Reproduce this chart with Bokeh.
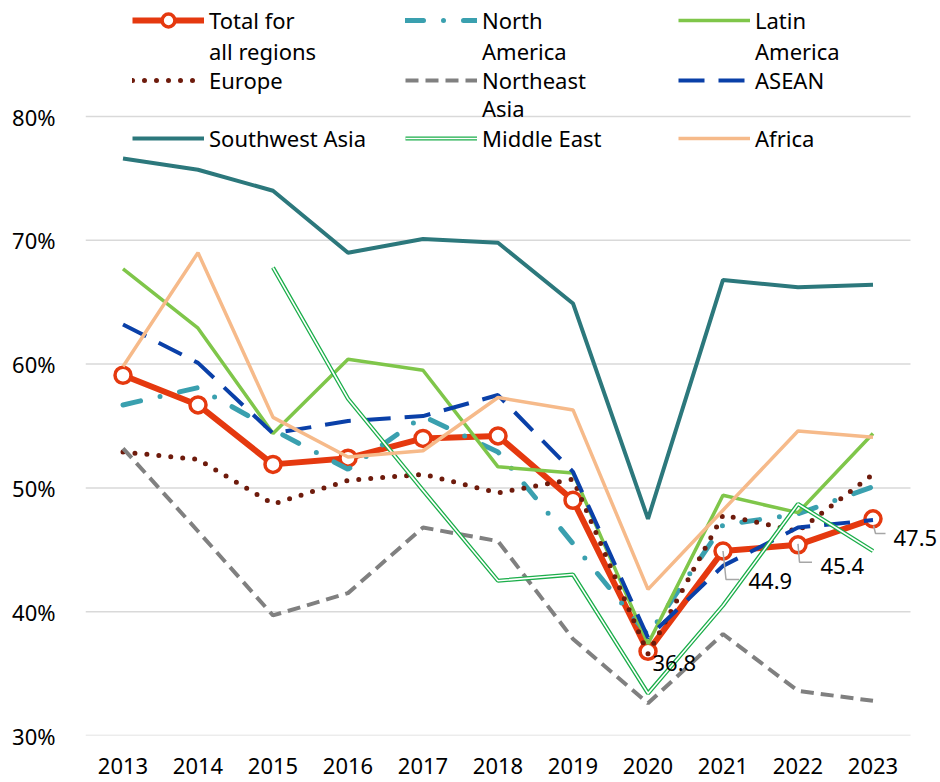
from bokeh.plotting import figure
from bokeh.models import (Legend, LegendItem, FixedTicker, Range1d, PrintfTickFormatter,
                          ColumnDataSource, LabelSet)
from bokeh.core.properties import value
from bokeh.embed import file_html
from bokeh.resources import INLINE

NAN = float("nan")

years = [2013, 2014, 2015, 2016, 2017, 2018, 2019, 2020, 2021, 2022, 2023]
total = [59.1, 56.7, 51.9, 52.4, 54.0, 54.2, 49.0, 36.8, 44.9, 45.4, 47.5]
north_america = [56.7, 58.1, 54.7, 51.5, 55.8, 52.9, 45.5, 38.1, 47.0, 47.9, 50.1]
latin_america = [67.7, 62.9, 54.4, 60.4, 59.5, 51.7, 51.2, 37.4, 49.4, 48.0, 54.4]
europe = [52.9, 52.3, 48.7, 50.6, 51.1, 49.6, 50.7, 36.6, 47.8, 46.5, 51.1]
northeast_asia = [53.2, 46.5, 39.7, 41.5, 46.8, 45.7, 37.8, 32.6, 38.2, 33.6, 32.8]
asean = [63.2, 60.1, 54.4, 55.4, 55.8, 57.5, 51.3, 37.9, 43.7, 46.8, 47.4]
southwest_asia = [76.6, 75.7, 74.0, 69.0, 70.1, 69.8, 64.9, 47.5, 66.8, 66.2, 66.4]
middle_east = [NAN, NAN, 67.8, 57.2, 49.8, 42.5, 43.0, 33.4, 40.5, 48.7, 44.9]
africa = [59.8, 69.0, 55.7, 52.5, 53.0, 57.3, 56.3, 41.8, 48.2, 54.6, 54.1]

y_ticks = [30, 40, 50, 60, 70, 80]
label_years = [2020, 2021, 2022, 2023]

FONT = "Noto Sans"
PX_PER_YEAR = 75.0
PX_PER_PCT = 12.38
FRAME_H = 735
X0, X1 = 2012.5, 2023.5
RIGHT_PAD = 30

p = figure(width=940, height=782, output_backend="svg", toolbar_location=None,
           x_range=Range1d(X0, X1 + RIGHT_PAD / PX_PER_YEAR),
           y_range=Range1d(30, 30 + FRAME_H / PX_PER_PCT),
           min_border_left=85, min_border_right=0, min_border_top=0,
           min_border_bottom=47, outline_line_color=None)

p.xgrid.grid_line_color = None
p.ygrid.grid_line_color = None
p.yaxis.ticker = FixedTicker(ticks=y_ticks)
p.xaxis.ticker = FixedTicker(ticks=years)
p.yaxis.formatter = PrintfTickFormatter(format="%d%%")
for ax in (p.xaxis, p.yaxis):
    ax.axis_line_color = None
    ax.major_tick_line_color = None
    ax.minor_tick_line_color = None
    ax.major_label_text_font = FONT
    ax.major_label_text_font_size = "22px"
    ax.major_label_text_color = "#000000"
p.yaxis.major_label_standoff = 24
p.xaxis.major_label_standoff = 16

# horizontal gridlines spanning the category area only
p.segment(x0=[X0] * len(y_ticks), x1=[X1] * len(y_ticks), y0=y_ticks, y1=y_ticks,
          line_color="#D9D9D9", line_width=1.5)

src = ColumnDataSource(dict(year=years, total=total, na=north_america, la=latin_america,
                            eu=europe, nea=northeast_asia, asean=asean, swa=southwest_asia,
                            me=middle_east, af=africa))

RED = "#E5390F"
r_total = p.line("year", "total", source=src, line_color=RED, line_width=6, line_join="round")
r_total_m = p.scatter("year", "total", source=src, size=16, marker="circle",
                      fill_color="white", line_color=RED, line_width=3.5)
r_na = p.line("year", "na", source=src, line_color="#3AA0AF", line_width=5,
              line_dash="18 20 0 20", line_cap="round")
r_la = p.line("year", "la", source=src, line_color="#7FC64A", line_width=3.5)
r_eu = p.line("year", "eu", source=src, line_color="#6E1B0C", line_width=5,
              line_dash="0 12", line_cap="round")
r_nea = p.line("year", "nea", source=src, line_color="#808080", line_width=4,
               line_dash="13 7")
r_asean = p.line("year", "asean", source=src, line_color="#0A40A8", line_width=4,
                 line_dash="26 14")
r_swa = p.line("year", "swa", source=src, line_color="#2C787C", line_width=4)
r_me1 = p.line("year", "me", source=src, line_color="#1BAE4A", line_width=4.2)
r_me2 = p.line("year", "me", source=src, line_color="white", line_width=1.6)
r_af = p.line("year", "af", source=src, line_color="#F6BA8A", line_width=3.5)
# empty, invisible renderer used for the wrapped second lines of legend labels
r_blank = p.line(x=[], y=[], line_alpha=0)

# data labels for the total series
idx = [years.index(y) for y in label_years]
lab_vals = [total[i] for i in idx]
lab_dx = [4.5, 25.5, 22.5, 20.5]
lab_dy = [12, 29.5, 20.7, 19.6]
lead_pts = [None,
            [(0, 0), (3, 28.5), (16, 28.5)],
            [(0, -1), (1.5, 17.4), (14, 17.4)],
            [(0.5, 6.6), (2.5, 14.6), (12.5, 14.6)]]
lxs, lys = [], []
for yr, v, pts in zip(label_years, lab_vals, lead_pts):
    if pts is None:
        continue
    lxs.append([yr + dx / PX_PER_YEAR for dx, dy in pts])
    lys.append([v - dy / PX_PER_PCT for dx, dy in pts])
p.multi_line(lxs, lys, line_color="#A6A6A6", line_width=1.5)
lab_src = ColumnDataSource(dict(x=label_years, y=lab_vals,
                                text=[f"{v:.1f}" for v in lab_vals],
                                dx=lab_dx, dy=[-d for d in lab_dy]))
p.add_layout(LabelSet(x="x", y="y", text="text", x_offset="dx", y_offset="dy",
                      source=lab_src, text_font=value(FONT), text_font_size="22px",
                      text_color="#000000", text_align="left", text_baseline="middle"))

# legend, laid out as in the reference: 3 columns, wrapped labels
GLYPH_W, STANDOFF, LABEL_W, GLYPH_H = 72, 5, 196, 32
COL_W = GLYPH_W + STANDOFF + LABEL_W
LEG_X = 47


def add_legend_row(entries, text_y, col0=0):
    leg = Legend(items=[LegendItem(label=lab, renderers=rs) for lab, rs in entries],
                 location=(LEG_X + col0 * COL_W, FRAME_H - GLYPH_H / 2 - text_y),
                 orientation="horizontal", glyph_width=GLYPH_W, glyph_height=GLYPH_H,
                 label_standoff=STANDOFF, label_width=LABEL_W, spacing=0, padding=0,
                 margin=0, border_line_alpha=0, background_fill_alpha=0,
                 label_text_font=FONT, label_text_font_size="22px",
                 label_text_color="#000000")
    p.add_layout(leg)


add_legend_row([("Total for", [r_total, r_total_m]), ("North", [r_na]),
                ("Latin", [r_la])], 20)
add_legend_row([("all regions", [r_blank]), ("America", [r_blank]),
                ("America", [r_blank])], 51)
add_legend_row([("Europe", [r_eu]), ("Northeast", [r_nea]), ("ASEAN", [r_asean])], 80)
add_legend_row([("Asia", [r_blank])], 108, col0=1)
add_legend_row([("Southwest Asia", [r_swa]), ("Middle East", [r_me1, r_me2]),
                ("Africa", [r_af])], 138)

open("out.html", "w").write(file_html(p, INLINE))
